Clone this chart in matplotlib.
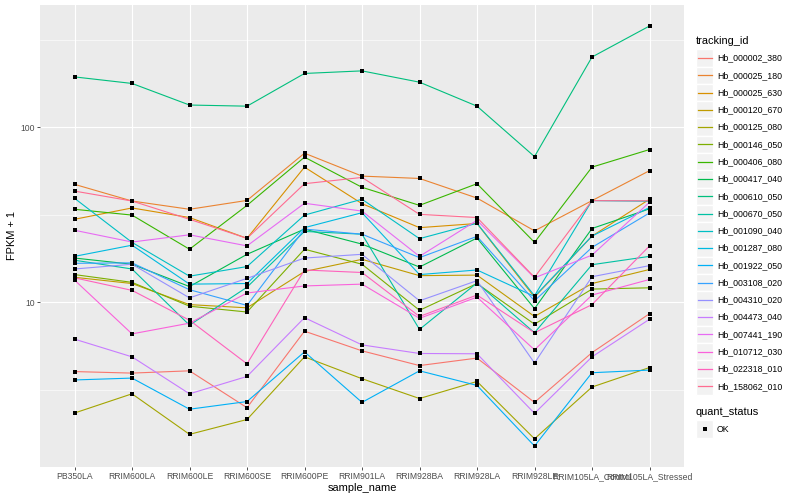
import numpy as np
import matplotlib
matplotlib.use("Agg")
import matplotlib.pyplot as plt
from matplotlib.patches import Rectangle

plt.rcParams['font.family'] = ['Liberation Sans', 'DejaVu Sans']

samples = ["PB350LA", "RRIM600LA", "RRIM600LE", "RRIM600SE", "RRIM600PE", "RRIM901LA",
           "RRIM928BA", "RRIM928LA", "RRIM928LE", "RRIM105LA_Control", "RRIM105LA_Stressed"]

tracking_ids = ["Hb_000002_380", "Hb_000025_180", "Hb_000025_630", "Hb_000120_670",
                "Hb_000125_080", "Hb_000146_050", "Hb_000406_080", "Hb_000417_040",
                "Hb_000610_050", "Hb_000670_050", "Hb_001090_040", "Hb_001287_080",
                "Hb_001922_050", "Hb_003108_020", "Hb_004310_020", "Hb_004473_040",
                "Hb_007441_190", "Hb_010712_030", "Hb_022318_010", "Hb_158062_010"]

# FPKM + 1, one value per sample
hb_000002_380 = [4.02, 3.94, 4.06, 2.50, 6.84, 5.28, 4.35, 4.80, 2.68, 5.16, 8.61]
hb_000025_180 = [47.2, 37.9, 34.0, 38.2, 71.1, 52.6, 51.0, 39.4, 25.6, 38.1, 56.5]
hb_000025_630 = [29.8, 34.6, 30.5, 23.2, 59.2, 36.6, 26.7, 28.2, 10.7, 23.9, 38.8]
hb_000120_670 = [13.9, 12.8, 9.7, 9.3, 15.0, 17.6, 14.2, 14.3, 8.3, 12.8, 15.4]
hb_000125_080 = [2.33, 3.00, 1.76, 2.14, 4.88, 3.66, 2.82, 3.53, 1.66, 3.28, 4.24]
hb_000146_050 = [14.4, 13.0, 9.5, 8.8, 20.1, 16.5, 9.0, 12.8, 7.5, 11.9, 12.1]
hb_000406_080 = [34.0, 31.5, 20.1, 35.8, 67.5, 45.4, 35.8, 47.6, 22.0, 59.2, 74.6]
hb_000417_040 = [17.9, 16.5, 12.3, 18.8, 26.2, 21.5, 15.9, 23.3, 9.2, 26.4, 34.2]
hb_000610_050 = [194, 178, 134, 132, 203, 210, 181, 132, 68, 252, 379]
hb_000670_050 = [17.4, 15.5, 7.4, 12.2, 25.4, 24.5, 7.0, 12.9, 6.7, 16.4, 18.3]
hb_001090_040 = [39.3, 22.0, 14.1, 16.0, 31.5, 38.8, 23.1, 28.3, 10.9, 38.1, 37.8]
hb_001287_080 = [18.3, 21.2, 12.7, 12.8, 26.7, 32.5, 14.4, 15.3, 10.8, 23.9, 34.8]
hb_001922_050 = [3.60, 3.69, 2.45, 2.71, 5.21, 2.68, 4.06, 3.35, 1.51, 3.96, 4.10]
hb_003108_020 = [16.7, 16.8, 11.8, 9.6, 26.2, 24.5, 18.0, 23.8, 10.2, 20.6, 32.4]
hb_004310_020 = [15.5, 16.5, 10.6, 13.7, 17.9, 18.8, 10.2, 13.3, 4.5, 14.0, 16.2]
hb_004473_040 = [6.16, 4.88, 3.00, 3.77, 8.17, 5.71, 5.10, 5.08, 2.32, 4.88, 8.0]
hb_007441_190 = [25.8, 22.1, 24.3, 21.0, 36.8, 33.2, 18.3, 29.4, 13.8, 18.6, 37.3]
hb_010712_030 = [13.4, 6.6, 7.6, 11.3, 12.4, 12.7, 8.1, 10.7, 5.35, 11.0, 13.5]
hb_022318_010 = [13.8, 11.7, 7.9, 4.45, 15.3, 14.8, 8.3, 11.0, 6.7, 9.7, 21.0]
hb_158062_010 = [43.2, 37.9, 29.8, 23.2, 47.6, 51.7, 31.8, 30.5, 13.9, 38.1, 38.0]

series = [hb_000002_380, hb_000025_180, hb_000025_630, hb_000120_670, hb_000125_080,
          hb_000146_050, hb_000406_080, hb_000417_040, hb_000610_050, hb_000670_050,
          hb_001090_040, hb_001287_080, hb_001922_050, hb_003108_020, hb_004310_020,
          hb_004473_040, hb_007441_190, hb_010712_030, hb_022318_010, hb_158062_010]

# ggplot default hue palette for 20 groups
colors = ["#F8766D", "#EA8331", "#D89000", "#C09B00", "#A3A500", "#7CAE00", "#39B600",
          "#00BB4E", "#00BF7D", "#00C1A3", "#00BFC4", "#00BAE0", "#00B0F6", "#35A2FF",
          "#9590FF", "#C77CFF", "#E76BF3", "#FA62DB", "#FF62BC", "#FF6C91"]

fig = plt.figure(figsize=(8, 5), dpi=100)
ax = fig.add_axes([40 / 800, 1 - 467 / 500, 644 / 800, 462 / 500])
ax.set_facecolor('#EBEBEB')

x = np.arange(len(samples))
for vals, col in zip(series, colors):
    ax.plot(x, vals, color=col, lw=0.8, zorder=2)
for vals in series:
    ax.plot(x, vals, 's', color='black', ms=2.6, mew=0, zorder=3)

ax.set_yscale('log')
allv = np.log10(np.concatenate([np.array(s, dtype=float) for s in series]))
lo, hi = allv.min(), allv.max()
pad = (hi - lo) * 0.05
ax.set_ylim(10 ** (lo - pad), 10 ** (hi + pad))
ax.set_xlim(-0.6, len(samples) - 0.4)

ax.set_yticks([10, 100])
ax.set_yticklabels(["10", "100"])
ax.set_yticks([10 ** 0.5, 10 ** 1.5, 10 ** 2.5], minor=True)
ax.set_yticklabels([], minor=True)
ax.set_xticks(x)
ax.set_xticklabels(samples)

ax.grid(which='major', color='white', lw=0.8)
ax.grid(which='minor', axis='y', color='white', lw=0.4)
ax.set_axisbelow(True)
for s in ax.spines.values():
    s.set_visible(False)
ax.tick_params(which='major', length=2.2, width=0.6, color='#333333',
               labelcolor='#4D4D4D', labelsize=6.2, pad=1.5)
ax.tick_params(which='minor', length=0)

ax.set_xlabel("sample_name", fontsize=7.9, labelpad=1.5)
ax.set_ylabel("FPKM + 1", fontsize=7.9, labelpad=2.5)

# legend drawn in figure pixel coordinates
lg = fig.add_axes([0, 0, 1, 1])
lg.set_xlim(0, 800)
lg.set_ylim(500, 0)
lg.axis('off')

lg.text(696, 41, "tracking_id", fontsize=7.9, va='center', ha='left')
step = 17.28
for i, (name, col) in enumerate(zip(tracking_ids, colors)):
    yc = 58 + i * step
    lg.add_patch(Rectangle((696, yc - step / 2), step, step, fc='#F2F2F2', ec='white', lw=1))
    lg.plot([698, 712], [yc, yc], color=col, lw=0.9)
    lg.text(717, yc, name, fontsize=6.3, va='center', ha='left')

lg.text(696, 412, "quant_status", fontsize=7.9, va='center', ha='left')
lg.add_patch(Rectangle((696, 429 - step / 2), step, step, fc='#F2F2F2', ec='white', lw=1))
lg.plot([704.6], [429], 's', color='black', ms=2.6, mew=0)
lg.text(717, 429, "OK", fontsize=6.3, va='center', ha='left')

fig.savefig("out.png", dpi=100)
